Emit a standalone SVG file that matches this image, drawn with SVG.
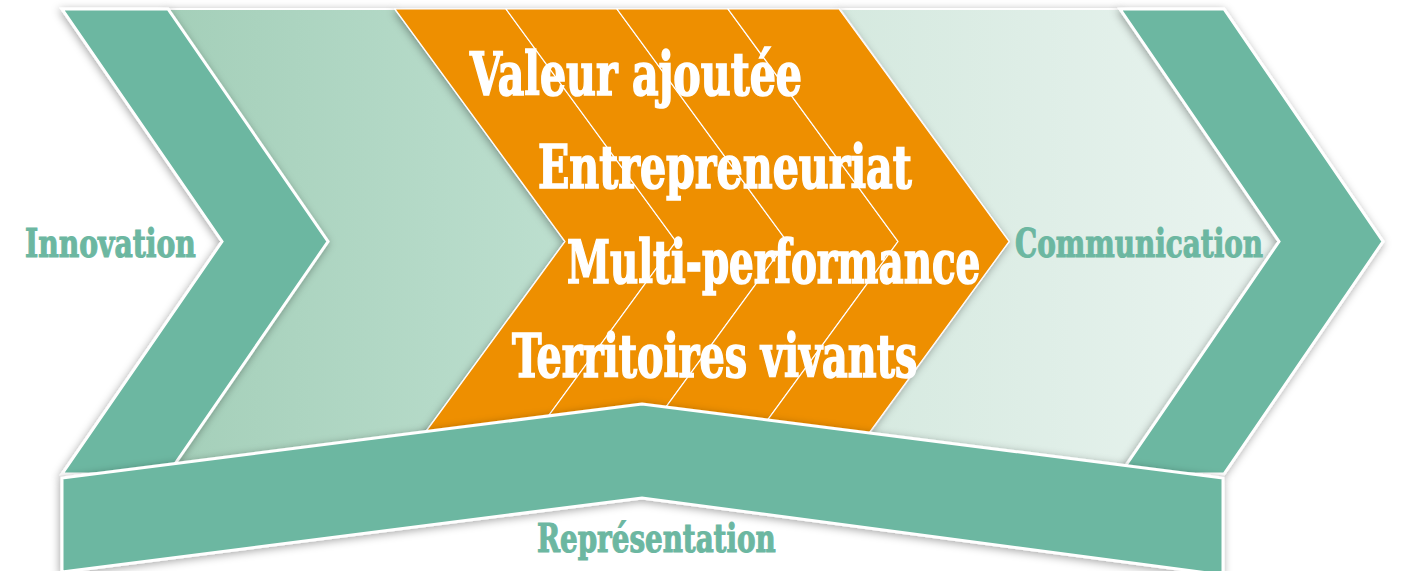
<svg xmlns="http://www.w3.org/2000/svg" width="1401" height="571" viewBox="0 0 1401 571">
  <defs>
    <linearGradient id="gLight" x1="0" y1="0" x2="1" y2="0">
      <stop offset="0" stop-color="#a4cfb9"/>
      <stop offset="1" stop-color="#bddfcf"/>
    </linearGradient>
    <linearGradient id="gPale" x1="0" y1="0" x2="1" y2="0">
      <stop offset="0" stop-color="#d5e9df"/>
      <stop offset="1" stop-color="#eaf4f0"/>
    </linearGradient>
    <filter id="sh" x="-10%" y="-10%" width="120%" height="120%">
      <feDropShadow dx="-1" dy="2" stdDeviation="4" flood-color="#000" flood-opacity="0.35"/>
    </filter>
  </defs>
  <style>
    .dark { fill: #6cb7a1; stroke: #ffffff; stroke-width: 3; stroke-linejoin: miter; }
    .light { fill: url(#gLight); stroke: #ffffff; stroke-width: 2; }
    .pale { fill: url(#gPale); stroke: #ffffff; stroke-width: 2; }
    .orange { fill: #ee8f05; stroke: #ffffff; stroke-width: 1.2; }
    .shadow { filter: url(#sh); }
    .big { font-family: 'DejaVu Serif Condensed', 'DejaVu Serif', serif; font-stretch: condensed; font-weight: bold; font-size: 60px; fill: #ffffff; stroke: #ffffff; stroke-width: 1.6; }
    .lbl { font-family: 'DejaVu Serif Condensed', 'DejaVu Serif', serif; font-stretch: condensed; font-weight: bold; font-size: 40px; fill: #6cb7a1; stroke: #6cb7a1; stroke-width: 1.1; }
  </style>
  <rect width="1401" height="571" fill="#ffffff"/>

  <g id="stage-2-light" class="shadow">
    <polygon class="light" points="168,9 395,9 565,241.5 395,474 168,474 328,241.5"/>
  </g>
  <g id="stage-4-pale" class="shadow">
    <polygon class="pale" points="840,9 1120,9 1279,241.5 1120,474 840,474 1009,241.5"/>
  </g>
  <g id="stage-3-orange" class="shadow">
    <polygon class="orange" points="395,9 506,9 676,241.5 506,474 395,474 565,241.5"/>
    <polygon class="orange" points="506,9 617,9 787,241.5 617,474 506,474 676,241.5"/>
    <polygon class="orange" points="617,9 728,9 898,241.5 728,474 617,474 787,241.5"/>
    <polygon class="orange" points="728,9 839,9 1009,241.5 839,474 728,474 898,241.5"/>
  </g>
  <g id="stage-1-innovation" class="shadow">
    <polygon class="dark" points="62,9 168,9 328,241.5 168,474 62,474 222,241.5"/>
  </g>
  <g id="stage-5-communication" class="shadow">
    <polygon class="dark" points="1120,9 1224,9 1383,241.5 1224,474 1120,474 1279,241.5"/>
  </g>
  <g id="representation-band" class="shadow">
    <polygon class="dark" points="62,478 642,404 1223,478 1223,575 642,498 62,572"/>
  </g>

  <g id="labels">
    <text class="lbl" transform="translate(25,257) scale(0.78,1)" textLength="219" lengthAdjust="spacingAndGlyphs">Innovation</text>
    <text class="lbl" transform="translate(1015,257) scale(0.78,1)" textLength="318" lengthAdjust="spacingAndGlyphs">Communication</text>
    <text class="lbl" transform="translate(537,552) scale(0.78,1)" textLength="306" lengthAdjust="spacingAndGlyphs">Représentation</text>
  </g>
  <g id="orange-texts">
    <text class="big" transform="translate(470,95) scale(0.72,1)" textLength="461" lengthAdjust="spacingAndGlyphs">Valeur ajoutée</text>
    <text class="big" transform="translate(538,188) scale(0.72,1)" textLength="519" lengthAdjust="spacingAndGlyphs">Entrepreneuriat</text>
    <text class="big" transform="translate(567,283) scale(0.72,1)" textLength="574" lengthAdjust="spacingAndGlyphs">Multi-performance</text>
    <text class="big" transform="translate(512,377) scale(0.72,1)" textLength="563" lengthAdjust="spacingAndGlyphs">Territoires vivants</text>
  </g>
</svg>
